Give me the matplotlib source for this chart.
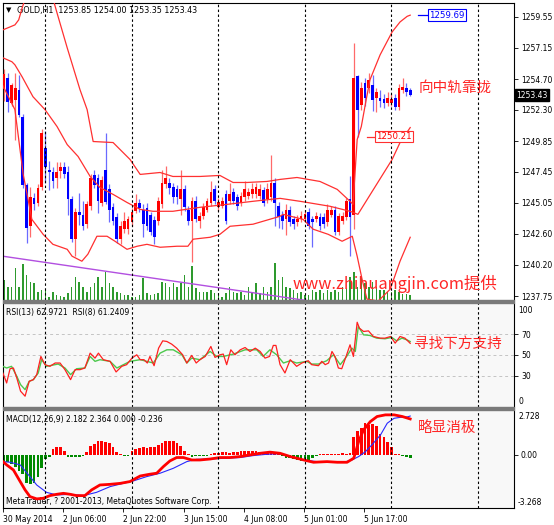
import numpy as np
import matplotlib
matplotlib.use('Agg')
import matplotlib.pyplot as plt
from matplotlib.patches import Rectangle
from matplotlib.transforms import blended_transform_factory as blend

# ---- hourly GOLD candles (bar index 0 .. 108) ----
opens = [1253.9, 1254.8, 1252.85, 1253.1, 1253.85, 1251.75, 1246.45, 1243.2, 1245.4, 1245.05,
         1246.3, 1249.35, 1247.6, 1247.4, 1247.0, 1247.5, 1247.8, 1247.4, 1245.3, 1242.2,
         1244.35, 1244.1, 1243.35, 1244.75, 1247.2, 1247.0, 1245.05, 1247.6, 1246.1, 1244.7,
         1243.9, 1242.2, 1243.0, 1243.0, 1243.5, 1244.4, 1245.0, 1244.5, 1244.6, 1244.1,
         1243.7, 1243.6, 1244.9, 1246.5, 1246.6, 1246.3, 1246.1, 1245.3, 1246.1, 1244.5,
         1243.6, 1245.15, 1243.6, 1244.0, 1244.5, 1245.05, 1246.1, 1244.7, 1244.8, 1245.7,
         1245.15, 1245.85, 1245.45, 1245.05, 1245.45, 1245.6, 1245.7, 1245.7, 1245.55, 1246.0,
         1245.3, 1245.45, 1246.6, 1244.75, 1244.1, 1243.75, 1244.5, 1243.75, 1243.5, 1243.75,
         1243.75, 1244.35, 1243.75, 1243.75, 1243.9, 1243.9, 1243.5, 1244.1, 1244.5, 1242.75,
         1243.6, 1243.9, 1245.3, 1244.1, 1254.9, 1252.7, 1254.4, 1254.0, 1254.25, 1253.25,
         1253.25, 1253.15, 1252.85, 1252.85, 1253.25, 1252.55, 1253.85, 1254.0, 1253.85]
highs = [1255.5, 1255.2, 1254.4, 1255.2, 1255.0, 1252.0, 1246.6, 1246.3, 1245.8, 1246.5,
         1250.8, 1250.65, 1248.3, 1247.8, 1248.2, 1248.25, 1248.2, 1247.9, 1245.6, 1244.6,
         1245.8, 1245.2, 1245.2, 1247.3, 1247.6, 1247.3, 1247.1, 1250.5, 1246.5, 1245.0,
         1244.2, 1243.6, 1244.3, 1244.0, 1244.6, 1245.7, 1245.3, 1244.9, 1245.0, 1244.3,
         1244.0, 1245.5, 1247.6, 1247.9, 1247.0, 1246.6, 1246.4, 1247.6, 1246.4, 1244.8,
         1245.5, 1245.6, 1244.3, 1245.0, 1245.4, 1246.7, 1246.4, 1245.4, 1245.5, 1246.0,
         1246.6, 1246.2, 1245.7, 1245.9, 1246.7, 1246.2, 1246.6, 1246.6, 1246.5, 1246.3,
         1246.6, 1248.8, 1247.0, 1245.1, 1244.4, 1244.9, 1244.8, 1244.0, 1244.1, 1244.4,
         1244.5, 1244.6, 1244.0, 1244.3, 1244.2, 1244.2, 1244.9, 1244.8, 1244.8, 1244.2,
         1244.3, 1245.4, 1247.1, 1257.55, 1255.0, 1254.5, 1254.8, 1255.2, 1255.0, 1254.0,
         1253.85, 1253.5, 1253.7, 1253.5, 1253.5, 1254.3, 1254.75, 1254.4, 1254.0]
lows = [1253.0, 1252.1, 1252.6, 1249.95, 1251.7, 1246.2, 1241.9, 1242.4, 1244.5, 1244.8,
        1246.0, 1246.55, 1246.0, 1246.2, 1246.2, 1247.0, 1247.0, 1244.1, 1242.0, 1240.85,
        1243.3, 1242.9, 1243.1, 1244.5, 1246.2, 1244.2, 1244.8, 1244.9, 1243.5, 1243.3,
        1241.9, 1241.8, 1242.7, 1242.6, 1243.2, 1244.2, 1244.3, 1242.35, 1242.9, 1242.5,
        1241.8, 1243.3, 1244.6, 1246.2, 1245.7, 1245.0, 1244.9, 1244.1, 1244.4, 1243.3,
        1240.4, 1243.5, 1243.1, 1243.8, 1244.3, 1244.8, 1244.9, 1244.4, 1244.6, 1243.4,
        1244.9, 1244.9, 1244.5, 1244.8, 1245.2, 1245.3, 1245.4, 1245.4, 1245.3, 1244.75,
        1245.0, 1245.2, 1243.2, 1243.1, 1242.95, 1242.55, 1243.2, 1243.0, 1243.2, 1243.5,
        1243.5, 1243.0, 1241.6, 1243.5, 1242.9, 1243.1, 1243.2, 1243.9, 1242.5, 1242.5,
        1243.4, 1243.7, 1240.85, 1242.95, 1250.2, 1252.3, 1252.6, 1253.6, 1252.2, 1252.15,
        1252.55, 1252.45, 1252.6, 1252.6, 1252.3, 1252.3, 1253.6, 1253.4, 1253.35]
closes = [1255.1, 1252.9, 1254.25, 1254.0, 1251.9, 1246.45, 1243.1, 1245.5, 1244.95, 1246.2,
          1250.5, 1247.8, 1247.4, 1246.7, 1247.4, 1247.8, 1247.25, 1245.3, 1242.2, 1244.35,
          1244.1, 1243.2, 1244.9, 1247.0, 1246.45, 1245.15, 1246.85, 1245.1, 1244.5, 1243.6,
          1242.2, 1243.2, 1243.6, 1243.75, 1244.3, 1245.05, 1244.6, 1243.35, 1243.2, 1242.75,
          1242.4, 1245.2, 1246.6, 1247.0, 1246.2, 1245.45, 1245.45, 1246.1, 1244.7, 1243.6,
          1245.15, 1243.75, 1244.0, 1244.7, 1245.15, 1245.9, 1245.15, 1245.1, 1245.15, 1243.6,
          1245.7, 1245.15, 1244.75, 1245.55, 1246.1, 1245.9, 1246.1, 1246.25, 1246.1, 1245.05,
          1246.1, 1246.6, 1245.05, 1243.95, 1243.6, 1244.5, 1243.5, 1243.35, 1243.75, 1244.0,
          1244.15, 1243.2, 1243.5, 1244.0, 1243.2, 1243.35, 1244.5, 1244.5, 1242.75, 1244.0,
          1244.0, 1245.15, 1243.9, 1254.8, 1252.3, 1254.0, 1253.25, 1254.65, 1253.1, 1253.7,
          1252.95, 1252.85, 1253.25, 1253.15, 1252.55, 1254.0, 1254.1, 1253.7, 1253.43]
volumes = [200, 130, 130, 320, 130, 360, 250, 180, 170, 80, 100, 100, 30, 80, 50, 40, 30, 70, 130, 230,
           180, 130, 80, 130, 170, 230, 130, 280, 170, 130, 80, 70, 50, 50, 30, 30, 50, 220, 70, 50,
           60, 70, 180, 170, 130, 170, 130, 170, 250, 130, 340, 120, 80, 80, 80, 100, 70, 70, 30, 70,
           130, 80, 70, 80, 50, 130, 80, 170, 70, 130, 80, 130, 370, 200, 230, 130, 120, 100, 70, 80,
           50, 50, 100, 80, 100, 70, 100, 80, 100, 80, 130, 120, 230, 280, 130, 230, 170, 130, 180, 130,
           100, 100, 80, 80, 100, 80, 60, 60, 50]

# Bollinger bands (bar index, price)
upper_x = [-0.3, 2.9, 3.9, 4.9, 6.4, 9.6, 12.0, 14.1, 16.8, 20.2, 22.1, 23.7, 29.0, 33.5, 36.2, 41.5,
           44.9, 52.1, 57.4, 60.9, 64.6, 69.9, 73.4, 77.9, 84.0, 88.6, 92.0, 92.8, 93.9, 95.0, 96.3,
           97.3, 100.0, 103.2, 105.3, 107.2, 108.0]
upper_y = [1258.54, 1258.93, 1259.32, 1260.33, 1261.65, 1262.82, 1262.04, 1259.86, 1257.14, 1253.87,
           1252.31, 1249.82, 1249.74, 1248.42, 1247.25, 1247.40, 1247.09, 1247.09, 1247.17, 1246.62,
           1246.62, 1246.70, 1246.86, 1247.01, 1246.70, 1246.08, 1245.15, 1244.91, 1249.97, 1250.99,
           1253.09, 1254.64, 1256.59, 1258.38, 1259.16, 1259.60, 1259.69]
mid_x = [-0.3, 2.1, 2.9, 4.8, 7.7, 10.9, 14.1, 16.8, 19.7, 22.9, 25.5, 29.0, 32.7, 36.2, 39.6, 44.9,
         52.1, 59.3, 66.2, 73.4, 78.7, 86.7, 92.0, 94.1, 103.2, 105.3, 108.0]
mid_y = [1256.36, 1256.05, 1255.81, 1254.88, 1253.32, 1252.31, 1250.99, 1249.58, 1248.65, 1247.09,
         1246.23, 1245.69, 1245.06, 1244.52, 1244.37, 1244.37, 1244.68, 1244.91, 1245.15, 1245.38,
         1245.15, 1244.76, 1244.37, 1244.13, 1248.42, 1249.74, 1250.91]
lower_x = [-0.3, 2.9, 5.1, 6.4, 7.4, 10.4, 13.0, 16.8, 18.1, 20.7, 22.3, 24.7, 27.4, 29.5, 32.7, 35.4,
           38.0, 41.5, 46.0, 48.9, 50.3, 54.8, 57.4, 60.1, 66.2, 73.4, 74.2, 79.5, 82.2, 86.2, 89.9,
           92.6, 93.9, 95.2, 96.5, 99.5, 102.7, 105.3, 108.0]
lower_y = [1254.18, 1252.31, 1247.25, 1245.30, 1243.74, 1242.57, 1241.79, 1241.40, 1240.86, 1240.47,
           1241.02, 1242.42, 1242.42, 1242.03, 1241.40, 1241.64, 1241.79, 1241.56, 1241.64, 1241.64,
           1242.19, 1242.34, 1242.57, 1243.20, 1243.36, 1243.98, 1244.13, 1243.74, 1242.97, 1242.57,
           1242.03, 1242.42, 1240.86, 1239.07, 1237.51, 1237.36, 1238.29, 1240.47, 1242.34]
trend_x = [-0.3, 82.0]
trend_y = [1240.86, 1237.33]

# RSI(8) red, RSI(13) green (bar index, value)
rsi8_x = [-0.3, 0.7, 1.6, 2.5, 3.4, 4.4, 5.6, 6.7, 7.8, 8.7, 9.8, 10.9, 12.2, 13.6, 14.9, 16.2, 17.7,
          18.9, 20.2, 21.5, 22.9, 24.2, 25.1, 26.4, 28.2, 29.8, 31.3, 32.6, 34.0, 35.3, 36.2, 37.2,
          38.1, 38.8, 39.9, 41.1, 42.2, 43.3, 44.6, 45.9, 47.5, 48.6, 49.9, 51.1, 52.1, 53.5, 55.0,
          56.1, 57.4, 58.3, 59.2, 60.3, 61.4, 62.8, 64.1, 65.4, 66.8, 68.1, 69.4, 70.6, 71.6, 72.3,
          73.4, 74.7, 76.1, 77.8, 79.2, 80.9, 81.8, 83.6, 84.5, 85.4, 86.3, 87.2, 88.0, 88.9, 89.8,
          91.1, 92.0, 92.9, 93.9, 94.5, 95.6, 96.9, 98.2, 100.0, 101.3, 102.8, 104.0, 105.3, 106.6,
          108.0]
rsi8_y = [32.7, 23.1, 36.8, 37.5, 27.9, 15.2, 10.4, 24.7, 26.3, 31.1, 48.6, 40.7, 39.1, 42.3, 42.3,
          35.9, 26.3, 35.9, 35.9, 37.5, 51.8, 47.0, 51.8, 45.5, 43.9, 33.7, 39.1, 40.7, 47.0, 50.2,
          45.5, 45.5, 42.3, 48.6, 39.7, 56.6, 63.6, 63.0, 60.4, 56.6, 50.2, 42.3, 49.6, 42.3, 45.5,
          48.6, 58.2, 47.7, 50.2, 50.9, 40.7, 55.0, 50.2, 55.0, 57.2, 53.4, 56.6, 53.4, 47.0, 48.6,
          59.2, 59.2, 40.7, 32.7, 45.5, 39.1, 42.3, 44.5, 40.7, 39.7, 43.9, 40.7, 42.3, 53.4, 48.6,
          37.5, 36.8, 50.2, 59.8, 48.6, 81.5, 75.8, 72.6, 73.2, 67.8, 66.2, 66.2, 67.8, 61.4, 67.8,
          66.2, 61.24]
rsi13_x = [-0.3, 0.7, 2.0, 3.4, 4.4, 5.6, 6.7, 7.8, 9.1, 10.0, 11.3, 12.7, 14.4, 16.2, 17.7, 19.3,
           21.5, 22.9, 24.2, 25.5, 28.2, 30.0, 33.5, 36.2, 39.7, 41.5, 43.3, 45.0, 47.3, 48.6, 49.9,
           52.1, 54.8, 56.6, 58.3, 61.0, 64.1, 67.2, 68.9, 70.7, 72.5, 74.3, 76.1, 77.8, 80.5, 81.8,
           83.6, 85.8, 87.6, 89.4, 91.1, 92.5, 93.4, 94.2, 95.6, 97.3, 99.1, 101.3, 103.1, 104.4,
           105.8, 107.1, 108.0]
rsi13_y = [39.1, 37.5, 39.1, 29.5, 21.5, 16.7, 24.7, 26.3, 32.7, 45.5, 39.1, 40.1, 41.3, 37.5, 31.1,
           36.8, 37.5, 48.6, 43.9, 45.5, 43.9, 37.5, 43.9, 45.5, 42.3, 51.8, 55.0, 55.0, 50.2, 42.3,
           47.0, 45.5, 53.4, 48.6, 48.6, 50.9, 55.0, 55.0, 48.6, 55.0, 50.2, 42.3, 44.5, 42.3, 43.9,
           41.3, 41.3, 44.5, 50.2, 40.7, 48.6, 56.6, 53.4, 77.4, 69.4, 68.8, 66.2, 65.6, 66.9, 63.6,
           66.2, 64.6, 62.97]

# MACD(12,26,9): main (thick red), signal (thin blue), histogram per bar
macd_x = [-0.3, 0.7, 2.5, 4.3, 5.6, 6.9, 8.7, 10.5, 12.2, 14.0, 15.8, 17.6, 19.3, 21.5, 23.3, 25.5,
          28.2, 30.9, 33.5, 36.2, 38.8, 40.6, 42.4, 44.1, 45.9, 47.7, 49.9, 52.1, 54.8, 57.4, 60.1,
          62.8, 65.4, 68.1, 70.7, 73.4, 76.1, 79.7, 82.3, 85.9, 88.6, 91.2, 93.0, 94.3, 95.6, 97.4,
          99.2, 101.4, 103.7, 105.9, 108.0]
macd_y = [-0.43, -0.63, -0.94, -1.65, -2.16, -2.57, -2.71, -2.67, -2.51, -2.43, -2.37, -2.43, -2.51,
          -2.51, -2.16, -1.86, -1.82, -1.76, -1.65, -1.31, -1.20, -1.14, -0.73, -0.39, -0.18, -0.18,
          -0.33, -0.33, -0.27, -0.18, -0.18, -0.12, -0.02, 0.08, 0.15, 0.08, -0.12, -0.33, -0.47,
          -0.43, -0.47, -0.47, -0.22, 0.80, 1.51, 2.02, 2.33, 2.43, 2.43, 2.33, 2.18]
signal_x = [-0.3, 1.6, 4.3, 6.9, 8.7, 11.3, 14.0, 17.6, 21.1, 24.6, 28.2, 31.7, 34.4, 37.9, 41.5,
            45.0, 48.6, 51.2, 54.8, 59.2, 62.8, 66.3, 69.9, 73.4, 76.1, 79.7, 83.2, 86.8, 90.3,
            92.5, 94.3, 96.1, 97.8, 100.1, 101.9, 103.7, 105.4, 107.2, 108.0]
signal_y = [-0.43, -0.47, -0.63, -1.35, -1.86, -2.31, -2.47, -2.43, -2.51, -2.31, -1.96, -1.76, -1.61,
            -1.35, -1.14, -0.84, -0.43, -0.29, -0.27, -0.22, -0.18, -0.06, 0.02, 0.06, -0.12, -0.33,
            -0.43, -0.43, -0.47, -0.33, -0.12, 0.18, 0.59, 1.20, 1.92, 2.22, 2.28, 2.30, 2.36]
hist = [-0.37, -0.47, -0.6, -0.75, -0.98, -1.2, -1.76, -1.8, -1.75, -1.35, -0.8, -0.27, -0.14, 0.35,
        0.49, 0.49, 0.24, -0.16, -0.16, -0.12, -0.16, -0.1, 0.14, 0.55, 0.65, 0.82, 0.86, 0.76, 0.69,
        0.45, 0.14, 0.04, -0.1, -0.06, 0.2, 0.35, 0.39, 0.45, 0.41, 0.45, 0.49, 0.61, 0.69, 0.82, 0.82,
        0.86, 0.72, 0.55, 0.24, 0.04, -0.12, -0.1, -0.08, -0.08, -0.06, 0.04, 0.08, 0.12, 0.14, 0.16,
        0.12, 0.14, 0.16, 0.2, 0.22, 0.24, 0.24, 0.2, 0.18, 0.14, 0.12, 0.1, 0.1, 0.04, -0.1, -0.22,
        -0.22, -0.28, -0.34, -0.38, -0.38, -0.34, -0.2, -0.1, 0.02, 0.04, 0.04, 0.06, 0.04, 0.06, 0.08,
        0.06, 0.08, 1.1, 1.45, 1.65, 1.92, 1.82, 1.9, 1.72, 1.25, 1.05, 0.74, 0.48, 0.05, 0.03, -0.1,
        -0.14, -0.22]

time_labels = ['30 May 2014', '2 Jun 06:00', '2 Jun 22:00', '3 Jun 15:00',
               '4 Jun 08:00', '5 Jun 01:00', '5 Jun 17:00']
time_bars = [0, 16, 32, 48, 64, 80, 96]
day_breaks = [10.9, 33.9, 56.9, 79.9, 102.9, 125.9]
price_ticks = [1259.55, 1257.15, 1254.70, 1252.30, 1249.85, 1247.45, 1245.05, 1242.60, 1240.20, 1237.75]

W, H = 554, 525
fig = plt.figure(figsize=(W / 100, H / 100), dpi=100, facecolor='white')
BG = '#F8F8F8'
SMALL = 5.5
CJK = ['Noto Sans CJK SC', 'DejaVu Sans']
NOTE = '#FF2626'


def pane(top, bottom):
    return fig.add_axes([3 / W, 1 - bottom / H, 511 / W, (bottom - top) / H])


ax1 = pane(3, 300)
ax2 = pane(303, 407)
ax3 = pane(410, 508)
XL = (-0.27, 135.6)

idx = np.arange(len(closes))
o, h, l, c = map(np.array, (opens, highs, lows, closes))
up = c >= o

# volume underneath the main pane
vax = ax1.twinx()
vax.set_zorder(0)
ax1.set_zorder(1)
ax1.patch.set_visible(False)
vax.set_facecolor(BG)
vax.bar(idx, volumes, width=0.4, color='#2E9A2E', linewidth=0)
vax.set_ylim(0, 2970)
vax.set_yticks([])
vax.set_xlim(*XL)
for s in vax.spines.values():
    s.set_visible(False)

ax1.plot(trend_x, trend_y, color='#B24FE0', lw=1.0, zorder=2)
ax1.vlines(idx, l, h, colors=np.where(up, '#FF6A6A', '#6A6AFF'), lw=0.9, zorder=3)
ax1.bar(idx, np.maximum(np.abs(c - o), 0.06), bottom=np.minimum(o, c), width=0.72,
        color=np.where(up, '#FF0000', '#0000FF'), linewidth=0, zorder=4)
for bx, by in ((upper_x, upper_y), (mid_x, mid_y), (lower_x, lower_y)):
    ax1.plot(bx, by, color='#FF3030', lw=0.9, zorder=5)
ax1.set_ylim(1237.44, 1260.64)

# RSI pane
ax2.set_facecolor(BG)
for lv in (70, 50, 30):
    ax2.axhline(lv, color='#C4C4C4', lw=0.7, ls=(0, (3, 3)), zorder=1)
ax2.plot(rsi13_x, rsi13_y, color='#4CC84C', lw=1.0, zorder=3)
ax2.plot(rsi8_x, rsi8_y, color='#FF2020', lw=0.9, zorder=4)
ax2.set_ylim(0, 100)

# MACD pane
ax3.set_facecolor(BG)
hist = np.array(hist)
ax3.bar(idx, hist, width=0.72, color=np.where(hist >= 0, '#FF0000', '#008A00'), linewidth=0, zorder=2)
ax3.plot(signal_x, signal_y, color='#2828FF', lw=0.8, zorder=3)
ax3.plot(macd_x, macd_y, color='#FF0000', lw=2.0, zorder=4)
ax3.set_ylim(-3.268, 2.728)

for ax in (ax1, ax2, ax3):
    ax.set_xlim(*XL)
    for xb in day_breaks:
        ax.axvline(xb, color='black', lw=0.8, ls=(0, (2.2, 2.2)), zorder=6)
    ax.yaxis.tick_right()
    ax.tick_params(axis='y', direction='out', length=3, width=0.6, pad=2, labelsize=SMALL)
    ax.spines['top'].set_visible(False)
    ax.spines['bottom'].set_visible(False)
    ax.spines['left'].set_linewidth(0.8)
    ax.spines['right'].set_linewidth(0.8)

ax1.set_xticks([])
ax2.set_xticks([])
ax1.spines['top'].set_visible(True)
ax1.spines['top'].set_linewidth(0.8)
ax3.spines['bottom'].set_visible(True)
ax3.spines['bottom'].set_linewidth(0.8)

ax1.set_yticks(price_ticks)
ax1.set_yticklabels(['%.2f' % v for v in price_ticks])
ax2.set_yticks([70, 50, 30])
ax3.set_yticks([0])
ax3.set_yticklabels(['0.00'])
ax3.set_xticks(np.array(time_bars) - 0.27)
ax3.set_xticklabels(time_labels, ha='left', fontsize=SMALL)
ax3.tick_params(axis='x', direction='out', length=3, width=0.6, pad=2)

rt2 = ax2.transAxes
ax2.text(1.008, 0.93, '100', transform=rt2, fontsize=SMALL, va='center')
ax2.text(1.008, 0.05, '0', transform=rt2, fontsize=SMALL, va='center')
ax3.text(1.008, 0.93, '2.728', transform=ax3.transAxes, fontsize=SMALL, va='center')
ax3.text(1.008, 0.06, '-3.268', transform=ax3.transAxes, fontsize=SMALL, va='center')

# header texts
ax1.text(0.012, 0.976, '▼', transform=ax1.transAxes, fontsize=5, va='center', ha='center')
ax1.text(0.027, 0.976, 'GOLD,H1  1253.85 1254.00 1253.35 1253.43', transform=ax1.transAxes,
         fontsize=5.8, va='center')
ax2.text(0.006, 0.913, 'RSI(13) 62.9721  RSI(8) 61.2409', transform=ax2.transAxes,
         fontsize=SMALL, va='center')
ax3.text(0.006, 0.908, 'MACD(12,26,9) 2.182 2.364 0.000 -0.236', transform=ax3.transAxes,
         fontsize=SMALL, va='center')
ax3.text(0.006, 0.065, 'MetaTrader, ? 2001-2013, MetaQuotes Software Corp.', transform=ax3.transAxes,
         fontsize=SMALL, va='center')

# price labels
ax1.plot([110.1, 113.0], [1259.69, 1259.69], color='#0000FF', lw=0.9, zorder=6)
ax1.text(113.0, 1259.69, '1259.69', color='#0000FF', fontsize=6.2, va='center', ha='left', zorder=7,
         bbox=dict(boxstyle='square,pad=0.15', fc='white', ec='#0000FF', lw=0.8))
ax1.plot([96.5, 98.9], [1250.21, 1250.21], color='#FF3030', lw=0.9, zorder=6)
ax1.text(98.9, 1250.21, '1250.21', color='#FF0000', fontsize=6.2, va='center', ha='left', zorder=7,
         bbox=dict(boxstyle='square,pad=0.15', fc='white', ec='#FF3030', lw=0.8))
ax1.text(1.004, 1253.43, '1253.43', transform=blend(ax1.transAxes, ax1.transData), color='white',
         fontsize=SMALL, va='center', ha='left', zorder=8,
         bbox=dict(boxstyle='square,pad=0.2', fc='black', ec='black'))

# commentary
ax1.text(110.1, 1254.02, '向中轨靠拢', color=NOTE, fontsize=10.5, family=CJK, va='center', zorder=8)
ax1.text(76.6, 1238.68, 'www.zhihuangjin.com提供', color=NOTE, fontsize=11.8, family=CJK,
         va='center', zorder=8)
ax2.text(109.0, 60.8, '寻找下方支持', color=NOTE, fontsize=10.5, family=CJK, va='center', zorder=8)
ax3.text(110.1, 1.63, '略显消极', color=NOTE, fontsize=10.5, family=CJK, va='center', zorder=8)

# pane separators
for top in (300, 407):
    fig.patches.append(Rectangle((3 / W, 1 - (top + 3) / H), 511 / W, 3 / H,
                                 transform=fig.transFigure, color='#7A7A7A', zorder=10))

fig.savefig('out.png', dpi=100, facecolor='white')
